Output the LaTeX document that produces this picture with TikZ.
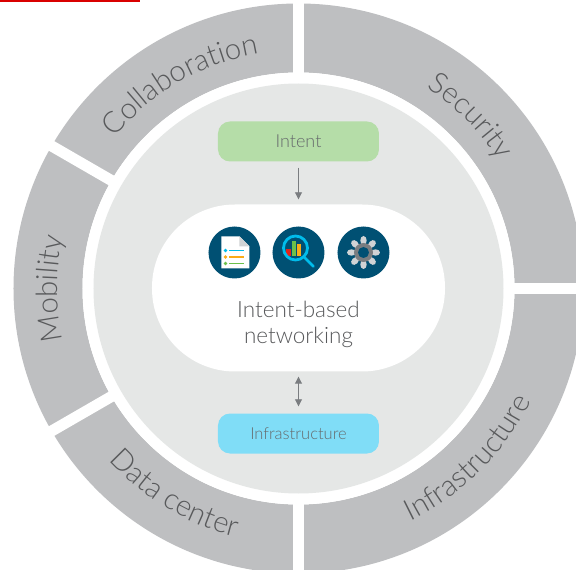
\documentclass[tikz,border=0pt]{standalone}
\usepackage{fontspec}
\setmainfont{Lato Light}
\usetikzlibrary{arrows.meta,decorations.text}
\definecolor{ringgray}{HTML}{BEBFC1}
\definecolor{discgray}{HTML}{E5E7E6}
\definecolor{labelgray}{HTML}{58595B}
\definecolor{boxtext}{HTML}{666A6C}
\definecolor{iconblue}{HTML}{005073}
\definecolor{lightblue}{HTML}{00BCEB}
\definecolor{barred}{HTML}{E2231A}
\definecolor{bargreen}{HTML}{6CC04A}
\definecolor{barorange}{HTML}{FBAB18}
\definecolor{intentgreen}{HTML}{B5DDA8}
\definecolor{infrablue}{HTML}{80DDF7}
\definecolor{petal}{HTML}{D0D3D5}
\definecolor{hub}{HTML}{7A7D80}
\tikzset{
	box/.style={rectangle, rounded corners=12, minimum width=161, minimum height=40, inner sep=0, text=boxtext},
	icon/.style={circle, fill=iconblue, minimum size=52, inner sep=0},
	link/.style={draw=hub, line width=0.9},
	bullet/.style={line width=1.7}
}
\newcommand{\arclabelfont}{\color{labelgray}\fontsize{29.5}{31}\selectfont}
\begin{document}
\begin{tikzpicture}[x=1pt,y=1pt, >={Triangle[width=7,length=7]}]
	% page, origin at the middle of the ring
	\clip (-298.5,-281.5) rectangle (277.5,288.5);
	\fill[red!85!black] (-298.5,286.5) rectangle (-158,288.5);
	% ring and its gaps
	\fill[ringgray, even odd rule] (0,0) circle (285) (0,0) circle (216);
	\foreach \angle in {0,90,150,210,270}
	{
		\draw[white, line width=11] (0,0) -- (\angle:300);
	}
	\fill[white] (0,0) circle (216);
	\fill[discgray] (0,0) circle (205);
	% ring labels: text, start angle, end angle, radius
	\foreach \label/\from/\to/\rad in {Collaboration/170/70/238, Security/95/-5/238, Mobility/230/130/241, Data center/189/289/256, Infrastructure/-95/5/258}
	{
		\path[decorate, decoration={text along path, text align=center, text={|\arclabelfont|\label}}]
			(\from:\rad) arc (\from:\to:\rad);
	}
	% middle
	\node[fill=white, rectangle, rounded corners=83, minimum width=293, minimum height=167, inner sep=0] (pill) at (0,0.5) {};
	\node[align=center, text=labelgray, font=\fontsize{22.5}{26}\selectfont] (pill_text) at (0,-36) {Intent-based\\networking};
	\node[box, fill=intentgreen, font=\fontsize{18}{20}\selectfont] (box_intent) at (0,147) {\raisebox{-1pt}{Intent}};
	\node[box, fill=infrablue, font=\fontsize{16.5}{20}\selectfont] (box_infra) at (0,-145) {\raisebox{-2pt}{Infrastructure}};
	% arrows
	\draw[link, ->, shorten <=6, shorten >=5] (box_intent) -- (pill);
	\draw[link, <->, shorten <=5, shorten >=7] (pill) -- (box_infra);
	% icons
	\node[icon] (icon_doc) at (-64,36) {};
	\node[icon] (icon_search) at (0,36) {};
	\node[icon] (icon_gear) at (65,36) {};
	% document
	\begin{scope}[shift={(icon_doc.center)}]
		\fill[white] (-13,16) -- (5,16) -- (15,6) -- (15,-16) -- (-13,-16) -- cycle;
		\fill[petal] (5,16) -- (15,6) -- (5,6) -- cycle;
		\foreach \ypos/\col in {2/lightblue, -4.5/barorange, -11/bargreen}
		{
			\fill[\col] (-9,\ypos) circle (1.9);
			\draw[\col, bullet] (-5,\ypos) -- (10,\ypos);
		}
	\end{scope}
	% magnifier
	\begin{scope}[shift={(icon_search.center)}]
		\fill[barred] (-12,-4) rectangle (-7,3);
		\fill[bargreen] (-6,-4) rectangle (-2,11);
		\fill[barorange] (-1,-4) rectangle (3,8);
		\draw[lightblue, line width=2.8] (-3,4.5) circle (12);
		\draw[lightblue, line width=2.8, line cap=round] (5,-4) -- (15,-14);
	\end{scope}
	% gear
	\begin{scope}[shift={(icon_gear.center)}]
		\foreach \angle in {0,45,...,315}
		{
			\fill[petal, rotate=\angle] (12,0) ellipse (4.5 and 3.2);
		}
		\fill[hub] (0,0) circle (9.5);
		\fill[iconblue] (0,0) circle (5.5);
	\end{scope}
\end{tikzpicture}
\end{document}
